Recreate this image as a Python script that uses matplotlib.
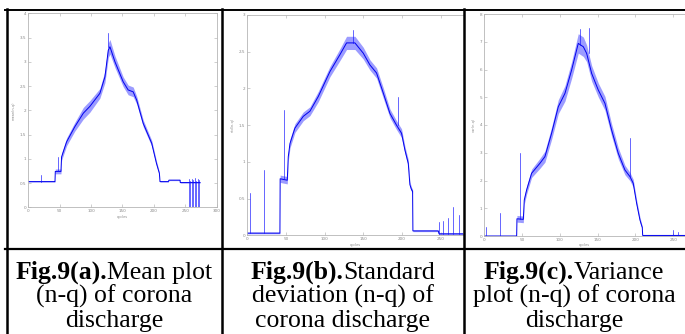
import matplotlib
matplotlib.use("Agg")
import matplotlib.pyplot as plt
from matplotlib.lines import Line2D
from matplotlib import font_manager
import numpy as np

W, H = 685, 334

# ---- data ----
# (a) mean
xa = [0, 42.5, 43, 52, 53, 61, 74, 87.6, 98, 114, 122, 127.4, 130, 138, 151, 159,
      167, 172.6, 183, 196.5, 204, 208.7, 209.7, 223, 224, 241.6, 242, 273.5]
ya = [0.53, 0.53, 0.74, 0.74, 1.04, 1.35, 1.66, 1.94, 2.08, 2.35, 2.69, 3.24, 3.31, 3.0, 2.59, 2.42,
      2.38, 2.21, 1.73, 1.32, 0.91, 0.70, 0.53, 0.53, 0.56, 0.56, 0.51, 0.51]
wa = [0.01, 0.01, 0.05, 0.05, 0.07, 0.08, 0.09, 0.12, 0.12, 0.1, 0.12, 0.15, 0.15, 0.12, 0.1, 0.1,
      0.1, 0.08, 0.07, 0.06, 0.05, 0.03, 0.01, 0.01, 0.01, 0.01, 0.01, 0.01]
spikes_a = [(21, 0.53, 0.67), (47.8, 0.74, 1.04), (127, 3.3, 3.59), (256, 0, 0.58), (258, 0, 0.55),
            (260, 0, 0.58), (263, 0, 0.56), (265, 0, 0.6), (267, 0, 0.55), (269.5, 0, 0.58),
            (272.5, 0, 0.57)]

# (b) standard deviation
xb = [0, 42.2, 42.5, 51.7, 53, 55.2, 61.6, 72.4, 81, 91.8, 106.9, 119.8, 128.4, 139.2, 150, 158.6,
      167.2, 175.8, 184.5, 193, 199.5, 203.9, 208.2, 210.3, 212.5, 213.8, 214.2, 247, 248, 300]
yb = [0.03, 0.03, 0.77, 0.75, 1.07, 1.25, 1.46, 1.62, 1.69, 1.89, 2.23, 2.46, 2.62, 2.62, 2.48, 2.32,
      2.21, 1.94, 1.66, 1.5, 1.39, 1.16, 0.98, 0.69, 0.62, 0.6, 0.06, 0.06, 0.02, 0.02]
wb = [0.01, 0.01, 0.05, 0.05, 0.06, 0.06, 0.06, 0.06, 0.06, 0.07, 0.07, 0.08, 0.09, 0.09, 0.08, 0.07,
      0.07, 0.07, 0.06, 0.06, 0.06, 0.05, 0.05, 0.04, 0.03, 0.03, 0.01, 0.01, 0.01, 0.01]
spikes_b = [(3.4, 0.03, 0.57), (22, 0.03, 0.89), (47.8, 0.77, 1.71), (137, 2.62, 2.8), (195.2, 1.5, 1.89),
            (248, 0.02, 0.18), (253.4, 0.02, 0.2), (260, 0.02, 0.23), (266.4, 0.02, 0.39),
            (274, 0.02, 0.28), (278.8, 0.02, 0.35)]

# (c) variance
xc = [0, 42.8, 43.2, 51.6, 52.9, 56, 62.6, 73.6, 80.2, 89, 97.9, 106.7, 115.5, 124.3, 131, 135.4,
      142, 150.8, 159.6, 168.4, 177.2, 186, 192.7, 197, 201.5, 205.9, 209, 209.5, 300]
yc = [0, 0, 0.62, 0.6, 1.3, 1.66, 2.26, 2.62, 2.86, 3.7, 4.66, 5.14, 5.98, 6.94, 6.82, 6.58,
      5.86, 5.26, 4.78, 3.82, 2.98, 2.38, 2.14, 1.9, 1.18, 0.58, 0.3, 0.02, 0.02]
wc = [0.02, 0.02, 0.12, 0.12, 0.15, 0.15, 0.15, 0.18, 0.2, 0.22, 0.25, 0.28, 0.3, 0.35, 0.35, 0.3,
      0.28, 0.25, 0.25, 0.22, 0.2, 0.17, 0.15, 0.14, 0.12, 0.1, 0.05, 0.02, 0.02]
spikes_c = [(2.2, 0, 0.34), (21.2, 0, 0.82), (47.2, 0.6, 2.98), (127, 6.9, 7.45), (138, 6.6, 7.5),
            (192.7, 2.14, 3.52), (250, 0, 0.22), (256.6, 0, 0.16)]

ylabels = ["mean(n-q)", "std(n-q)", "var(n-q)"]
xlabel = "cycles"
xticks = [0, 50, 100, 150, 200, 250, 300]
yticks_a = [0, 0.5, 1, 1.5, 2, 2.5, 3, 3.5, 4]
yticks_b = [0, 0.5, 1, 1.5, 2, 2.5, 3]
yticks_c = [0, 1, 2, 3, 4, 5, 6, 7, 8]

captions = [("Fig.9(a).", "Mean plot", ["(n-q) of corona", "discharge"]),
            ("Fig.9(b).", "Standard", ["deviation (n-q) of", "corona discharge"]),
            ("Fig.9(c).", "Variance", ["plot (n-q) of corona", "discharge"])]

# find a Times-like font (register Liberation Serif files if the cache missed them)
for p in font_manager.findSystemFonts():
    if "liberationserif" in p.lower().replace("-", "").replace("_", ""):
        try:
            font_manager.fontManager.addfont(p)
        except Exception:
            pass
names = {f.name for f in font_manager.fontManager.ttflist}
serif = "DejaVu Serif"
for cand in ["Liberation Serif", "Times New Roman", "Nimbus Roman", "TeX Gyre Termes"]:
    if cand in names:
        serif = cand
        break

fig = plt.figure(figsize=(W / 100, H / 100), dpi=100)
fig.patch.set_facecolor("white")


def box(l, r, t, b):
    # pixel box -> figure fraction
    return [l / W, 1 - b / H, (r - l) / W, (b - t) / H]


def panel(rect, x, y, w, spikes, yt, ylim, xmax, ylab, right_spine=True):
    ax = fig.add_axes(rect)
    x = np.array(x)
    y = np.array(y)
    w = np.array(w)
    ax.fill_between(x, y - w, y + w, color="#3a3aff", alpha=0.5, lw=0)
    ax.plot(x, y, color="#0000ee", lw=0.7)
    for sx, s0, s1 in spikes:
        ax.plot([sx, sx], [s0, s1], color="#1010ff", lw=0.45)
    ax.set_xlim(0, xmax)
    ax.set_ylim(ylim)
    ax.set_xticks([t for t in xticks if t <= xmax])
    ax.set_yticks(yt)
    ax.set_yticklabels([("%g" % v) for v in yt])
    ax.tick_params(direction="in", length=2, width=0.4, colors="#aaaaaa",
                   labelsize=3, labelcolor="#888888", pad=1.5, top=True, right=right_spine)
    for s in ax.spines.values():
        s.set_color("#b5b5b5")
        s.set_linewidth(0.6)
    if not right_spine:
        ax.spines["right"].set_visible(False)
    ax.set_ylabel(ylab, fontsize=2.5, color="#888888", labelpad=3)
    ax.set_xlabel(xlabel, fontsize=2.5, color="#888888", labelpad=1)
    return ax


# axes b and c are cut off by the table cell / image edge
panel(box(28.3, 216.7, 13.3, 207.3), xa, ya, wa, spikes_a, yticks_a, (0, 4), 300, ylabels[0])
panel(box(247.3, 463, 15, 235.3), xb, yb, wb, spikes_b, yticks_b, (0, 3), 279, ylabels[1], right_spine=False)
panel(box(484.3, 685, 14, 236), xc, yc, wc, spikes_c, yticks_c, (0, 8), 265.5, ylabels[2], right_spine=False)

# table rules
def hline(y, x0, x1, lw):
    fig.add_artist(Line2D([x0 / W, x1 / W], [1 - y / H, 1 - y / H], color="black", lw=lw))


def vline(x, y0, y1, lw):
    fig.add_artist(Line2D([x / W, x / W], [1 - y0 / H, 1 - y1 / H], color="black", lw=lw))


hline(9.8, 5, 685, 1.4)
hline(249, 5, 685, 1.6)
for vx in [6.5, 222, 463.5]:
    vline(vx, 9, 334, 1.8)

# captions
fig.canvas.draw()
r = fig.canvas.get_renderer()
centers = [114, 342.5, 574]
baselines = [279, 303, 327]
fs = 18.5
for (bold, reg, rest), cx in zip(captions, centers):
    t1 = fig.text(0, 0, bold, fontsize=fs, fontweight="bold", family=serif)
    t2 = fig.text(0, 0, reg, fontsize=fs, family=serif)
    w1 = t1.get_window_extent(r).width
    w2 = t2.get_window_extent(r).width
    x0 = cx - (w1 + w2) / 2
    t1.set_position((x0 / W, 1 - baselines[0] / H))
    t1.set_va("baseline")
    t2.set_position(((x0 + w1) / W, 1 - baselines[0] / H))
    t2.set_va("baseline")
    for line, by in zip(rest, baselines[1:]):
        fig.text(cx / W, 1 - by / H, line, fontsize=fs, family=serif,
                 ha="center", va="baseline")

fig.savefig("out.png", dpi=100)
